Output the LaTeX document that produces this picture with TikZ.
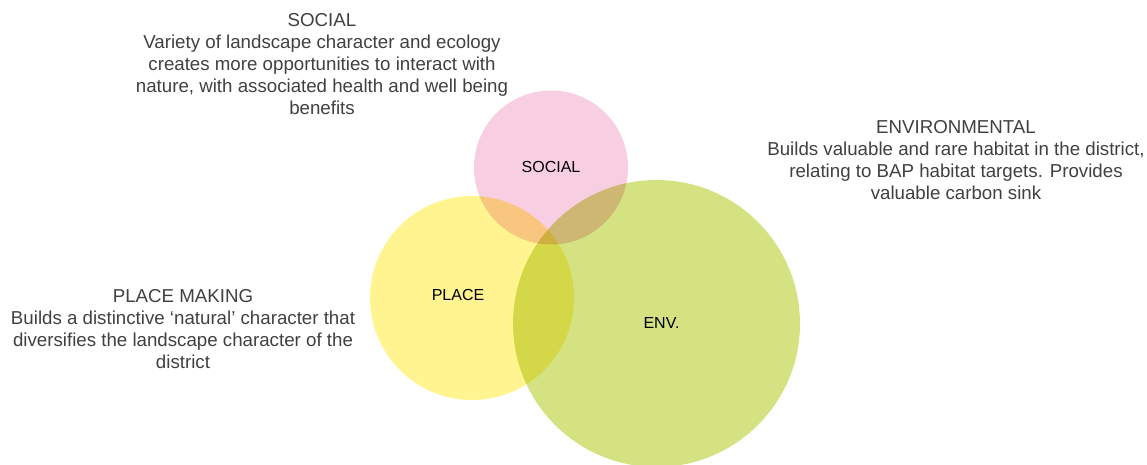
\documentclass[tikz,border=0pt]{standalone}
\usepackage{fontspec}
\setmainfont{Liberation Sans}
\usepackage{tikz}
\definecolor{socialpink}{HTML}{F8CFE2}
\definecolor{placeyellow}{HTML}{FFF48F}
\definecolor{envgreen}{HTML}{D4E282}
\definecolor{blurbgrey}{HTML}{404040}

\begin{document}
\begin{tikzpicture}[x=1pt,y=-1pt,
    blurb/.style={align=center,inner sep=0pt,text=blurbgrey,
      font=\fontsize{18.7}{22}\selectfont},
    tag/.style={inner sep=0pt,text=black,font=\fontsize{16}{18}\selectfont}]
              \useasboundingbox (0,0) rectangle (1147,465);
              \coordinate (S) at (551,167.5);
              \coordinate (P) at (472,298);
              \coordinate (E) at (656.5,323.5);
              \begin{scope}[blend group=multiply]
                \fill[placeyellow] (P) circle (102);
                \fill[socialpink] (S) circle (77);
                \fill[envgreen] (E) circle (143.5);
              \end{scope}
              \node[tag] (socialtag) at (551,167) {SOCIAL};
              \node[tag] (placetag) at (458,295) {PLACE};
              \node[tag] (envtag) at (661.5,323) {ENV.};
              % \node[tag] (centretag) at (S) {};
              \node[blurb] (socialtext) at (322,64) {SOCIAL\\
                Variety of landscape character and ecology\\
                creates more opportunities to interact with\\
                nature, with associated health and well being\\
                benefits};
              \node[blurb] (envtext) at (956,160) {ENVIRONMENTAL\\
                Builds valuable and rare habitat in the district,\\
                relating to BAP habitat targets. Provides\\
                valuable carbon sink};
              \node[blurb] (placetext) at (183,329) {PLACE MAKING\\
                Builds a distinctive ‘natural’ character that\\
                diversifies the landscape character of the\\
                district};
            \end{tikzpicture}
\end{document}
